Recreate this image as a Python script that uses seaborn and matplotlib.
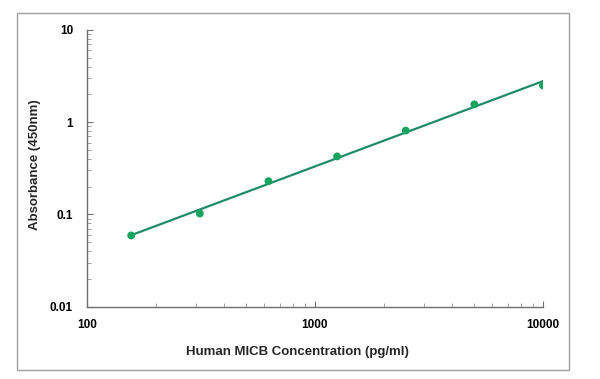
import numpy as np
import pandas as pd
import matplotlib
matplotlib.use("Agg")
import matplotlib.pyplot as plt
import seaborn as sns
from matplotlib.patches import Rectangle
from matplotlib.ticker import LogLocator, FixedLocator, FixedFormatter, NullFormatter

concentration = [156.25, 312.5, 625, 1250, 2500, 5000, 10000]
absorbance = [0.059, 0.102, 0.229, 0.425, 0.81, 1.56, 2.50]
x_ticks = [100, 1000, 10000]
x_tick_labels = ["100", "1000", "10000"]
y_ticks = [0.01, 0.1, 1, 10]
y_tick_labels = ["0.01", "0.1", "1", "10"]

sns.set_theme(style="white")
plt.rcParams["font.family"] = ["Liberation Sans", "DejaVu Sans"]

df = pd.DataFrame({"conc": concentration, "abs": absorbance})
coef = np.polyfit(np.log10(df["conc"]), np.log10(df["abs"]), 1)
fit_x = np.array([concentration[0], concentration[-1]])
fit_df = pd.DataFrame({"conc": fit_x, "abs": 10 ** np.polyval(coef, np.log10(fit_x))})

fig = plt.figure(figsize=(6, 3.79), dpi=100)
fig.patch.set_facecolor("white")
fig.patches.append(Rectangle((17 / 600, 1 - 370 / 379), (569 - 17) / 600, (370 - 13) / 379,
                             transform=fig.transFigure, fill=False, edgecolor="#a0a0a0", linewidth=1.0))
ax = fig.add_axes([87 / 600, 1 - 306.5 / 379, (543 - 87) / 600, (306.5 - 30) / 379])

sns.lineplot(data=fit_df, x="conc", y="abs", ax=ax, color="#1f8c69", linewidth=1.6)
sns.scatterplot(data=df, x="conc", y="abs", ax=ax, color="#17a360", s=32, edgecolor="none", zorder=3)

ax.set_xscale("log")
ax.set_yscale("log")
ax.set_xlim(100, 10000)
ax.set_ylim(0.01, 10)

ax.xaxis.set_major_locator(FixedLocator(x_ticks))
ax.xaxis.set_major_formatter(FixedFormatter(x_tick_labels))
ax.yaxis.set_major_locator(FixedLocator(y_ticks))
ax.yaxis.set_major_formatter(FixedFormatter(y_tick_labels))
ax.xaxis.set_minor_locator(LogLocator(base=10, subs=np.arange(2, 10), numticks=20))
ax.yaxis.set_minor_locator(LogLocator(base=10, subs=np.arange(2, 10), numticks=20))
ax.xaxis.set_minor_formatter(NullFormatter())
ax.yaxis.set_minor_formatter(NullFormatter())

for side in ["top", "right"]:
    ax.spines[side].set_visible(False)
for side in ["left", "bottom"]:
    ax.spines[side].set_color("#707070")
    ax.spines[side].set_linewidth(1.0)

ax.tick_params(axis="both", which="major", direction="in", length=4, width=0.8, color="#707070",
               labelsize=8.5, labelcolor="black", left=True, bottom=True)
ax.tick_params(axis="both", which="minor", direction="in", length=3, width=0.6, color="#909090",
               left=True, bottom=True)
ax.tick_params(axis="x", which="major", pad=9)
ax.tick_params(axis="y", which="major", pad=10)
for lbl in ax.get_xticklabels() + ax.get_yticklabels():
    lbl.set_fontweight("bold")

ax.set_xlabel("Human MICB Concentration (pg/ml)", fontsize=9.5, fontweight="bold")
ax.set_ylabel("Absorbance (450nm)", fontsize=9.5, fontweight="bold")
ax.xaxis.set_label_coords((297 - 87) / 456, (306.5 - 352) / 276.5)
ax.xaxis.label.set_va("center")
ax.yaxis.set_label_coords((35 - 87) / 456, (306.5 - 165) / 276.5)
ax.yaxis.label.set_va("center")
ax.grid(False)

fig.savefig("out.png", dpi=100, facecolor="white")
